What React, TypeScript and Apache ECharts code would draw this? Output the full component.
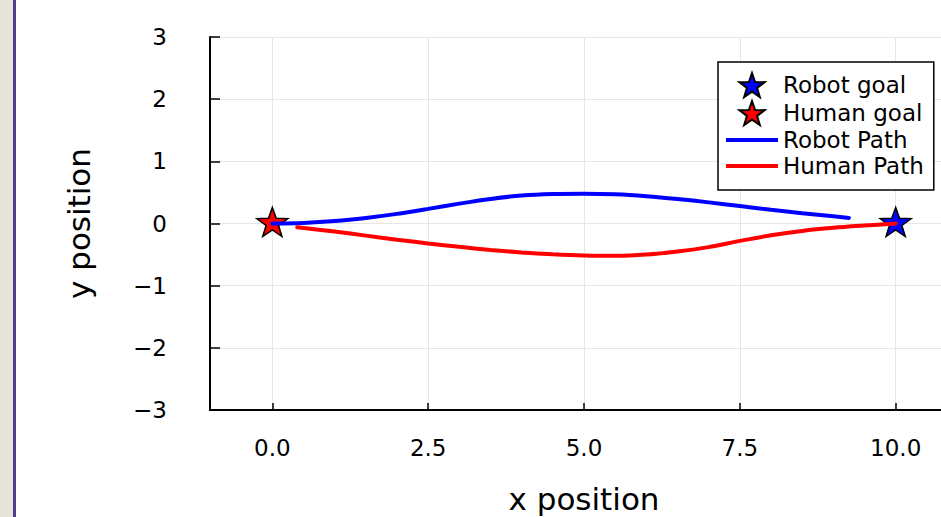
import React, { useEffect, useRef } from "react";
import * as echarts from "echarts";

const robotGoal = [[10, 0]];
const humanGoal = [[0, 0]];
const robotPathX = [0, 0.5, 1, 1.5, 2, 2.5, 3, 3.5, 4, 4.5, 5, 5.5, 6, 6.5, 7, 7.5, 8, 8.5, 9, 9.25];
const robotPathY = [0, 0.01, 0.04, 0.09, 0.155, 0.235, 0.32, 0.395, 0.45, 0.475, 0.48, 0.47, 0.44, 0.395, 0.34, 0.28, 0.22, 0.165, 0.115, 0.09];
const humanPathX = [0.4, 1, 1.5, 2, 2.5, 3, 3.5, 4, 4.5, 5, 5.5, 6, 6.5, 7, 7.5, 8, 8.5, 9, 9.5, 10];
const humanPathY = [-0.06, -0.13, -0.195, -0.26, -0.32, -0.375, -0.425, -0.465, -0.495, -0.515, -0.52, -0.5, -0.45, -0.38, -0.28, -0.19, -0.12, -0.07, -0.033, 0];
const xTicks = [0, 2.5, 5, 7.5, 10];

const STAR =
  "path://M50 0 L61.76 33.82 L97.55 34.55 L69.02 56.18 L79.39 90.45 L50 70 L20.61 90.45 L30.98 56.18 L2.45 34.55 L38.24 33.82 Z";
const LINE_ICON = "path://M0 0 L52 0 L52 4 L0 4 Z";
const FONT = "DejaVu Sans";

export default function App() {
  const ref = useRef<HTMLDivElement>(null);
  useEffect(() => {
    if (!ref.current) return;
    const chart = echarts.init(ref.current, undefined, { renderer: "svg" });
    const zip = (xs: number[], ys: number[]) => xs.map((x, i) => [x, ys[i]]);
    chart.setOption({
      animation: false,
      backgroundColor: "#ffffff",
      graphic: [
        { type: "rect", shape: { x: 0, y: 0, width: 13, height: 517 }, style: { fill: "#e8e4da" }, z: 100 },
        { type: "rect", shape: { x: 13, y: 0, width: 3, height: 517 }, style: { fill: "#4e3d8c" }, z: 100 },
      ],
      grid: { left: 210, right: 0, top: 37, bottom: 107, containLabel: false, outerBoundsMode: "none" },
      xAxis: {
        type: "value",
        min: -1,
        max: 11,
        name: "x position",
        nameLocation: "middle",
        nameGap: 73,
        nameTextStyle: { fontFamily: FONT, fontSize: 31, color: "#000" },
        axisLine: { show: true, onZero: false, lineStyle: { color: "#000", width: 2 } },
        axisTick: { show: true, inside: true, length: 7, customValues: xTicks, lineStyle: { color: "#000", width: 1.5 } },
        axisLabel: {
          customValues: xTicks,
          margin: 26,
          fontFamily: FONT,
          fontSize: 23,
          color: "#000",
          formatter: (v: number) => v.toFixed(1),
        },
        splitLine: { show: true, lineStyle: { color: "#e6e6e6", width: 1 } },
      },
      yAxis: {
        type: "value",
        min: -3,
        max: 3,
        interval: 1,
        name: "y position",
        nameLocation: "middle",
        nameGap: 116,
        nameTextStyle: { fontFamily: FONT, fontSize: 31, color: "#000" },
        axisLine: { show: true, onZero: false, lineStyle: { color: "#000", width: 2 } },
        axisTick: { show: true, inside: true, length: 10, lineStyle: { color: "#000", width: 1.5 } },
        axisLabel: {
          margin: 43,
          fontFamily: FONT,
          fontSize: 23,
          color: "#000",
          formatter: (v: number) => (v < 0 ? "\u2212" + Math.abs(v) : String(v)),
        },
        splitLine: { show: true, lineStyle: { color: "#e6e6e6", width: 1 } },
      },
      legend: {
        orient: "vertical",
        left: 718,
        top: 62,
        padding: [10, 10, 12, 8],
        itemWidth: 52,
        itemHeight: 24,
        itemGap: 2,
        backgroundColor: "#ffffff",
        borderColor: "#000",
        borderWidth: 1.5,
        borderRadius: 0,
        textStyle: { fontFamily: FONT, fontSize: 23, lineHeight: 24, color: "#000", padding: [0, 0, 0, 0] },
        data: [
          { name: "Robot goal", icon: STAR },
          { name: "Human goal", icon: STAR },
          { name: "Robot Path", icon: LINE_ICON, itemStyle: { borderWidth: 0 } },
          { name: "Human Path", icon: LINE_ICON, itemStyle: { borderWidth: 0 } },
        ],
      },
      series: [
        {
          name: "Robot goal",
          type: "scatter",
          data: robotGoal,
          symbol: STAR,
          symbolSize: [31, 29],
          symbolOffset: [0, -1.5],
          itemStyle: { color: "#0000ff", borderColor: "#000", borderWidth: 1.5, opacity: 1 },
          z: 2,
        },
        {
          name: "Human goal",
          type: "scatter",
          data: humanGoal,
          symbol: STAR,
          symbolSize: [31, 29],
          symbolOffset: [0, -1.5],
          itemStyle: { color: "#ff0000", borderColor: "#000", borderWidth: 1.5, opacity: 1 },
          z: 2,
        },
        {
          name: "Robot Path",
          type: "line",
          data: zip(robotPathX, robotPathY),
          smooth: 0.3,
          symbol: "none",
          showSymbol: false,
          lineStyle: { color: "#0000ff", width: 4, cap: "round" },
          itemStyle: { color: "#0000ff" },
          z: 3,
        },
        {
          name: "Human Path",
          type: "line",
          data: zip(humanPathX, humanPathY),
          smooth: 0.3,
          symbol: "none",
          showSymbol: false,
          lineStyle: { color: "#ff0000", width: 4, cap: "round" },
          itemStyle: { color: "#ff0000" },
          z: 4,
        },
      ],
    });
    return () => chart.dispose();
  }, []);
  return (
    <div style={{ position: "fixed", left: 0, top: 0, width: 941, height: 517, overflow: "hidden" }}>
      <div ref={ref} style={{ position: "absolute", left: 0, top: 0, width: 958, height: 517 }} />
    </div>
  );
}
